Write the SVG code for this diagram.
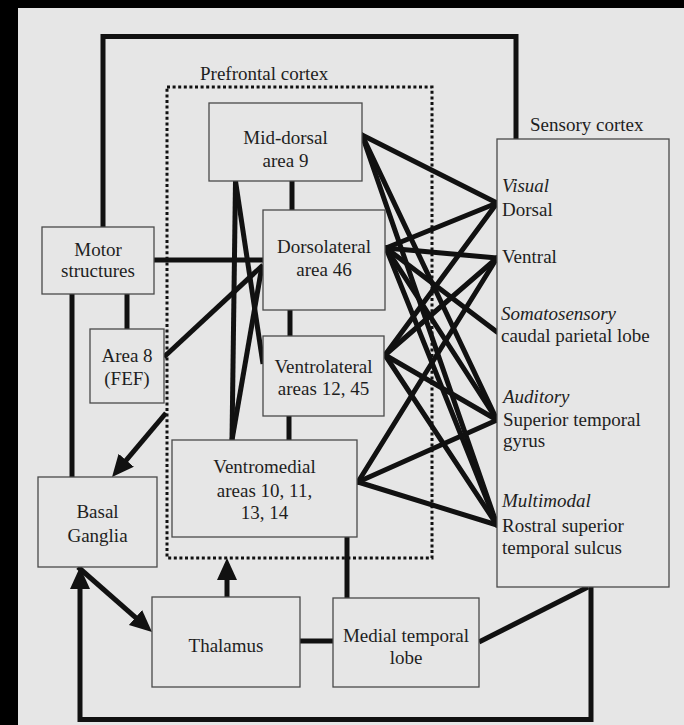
<svg xmlns="http://www.w3.org/2000/svg" width="684" height="725" viewBox="0 0 684 725" font-family="'Liberation Serif', 'Times New Roman', serif">
<defs>
<style>
.box{fill:#e6e6e6;stroke:#4a4a4a;stroke-width:1.3}
.t{font-family:'Liberation Serif','Times New Roman',serif;font-size:19px;fill:#1e1e1e}
.c{text-anchor:middle}
.i{font-style:italic}
.ln{stroke:#111;stroke-width:5;fill:none}
.fan{stroke:#111;stroke-width:5;fill:none;stroke-linecap:round}
.dot{fill:none;stroke:#111;stroke-width:3;stroke-dasharray:3 2.6}
</style>
<marker id="ah" markerUnits="userSpaceOnUse" markerWidth="24" markerHeight="22" refX="12" refY="10" orient="auto">
<path d="M0,0 L22,10 L0,20 z" fill="#111"/>
</marker>
</defs>
<rect x="0" y="0" width="684" height="725" fill="#e6e6e6"/>
<rect x="0" y="0" width="684" height="8" fill="#000"/>
<rect x="0" y="0" width="18" height="725" fill="#000"/>

<g id="prefrontal">
<rect class="dot" x="167" y="87" width="265" height="471"/>
<text class="t" x="200" y="80" font-family="Liberation Serif, serif">Prefrontal cortex</text>
</g>

<g id="connectors">
<path class="ln" d="M103,227 V36.5 H516 V139" stroke-linejoin="miter"/>
<path class="ln" d="M591,587 V719.5 H80 V577" marker-end="url(#ah)"/>
<line class="ln" x1="154" y1="260" x2="263" y2="260"/>
<line class="ln" x1="72" y1="294" x2="72" y2="477"/>
<line class="ln" x1="127" y1="294" x2="127" y2="329"/>
<line class="ln" x1="164" y1="357" x2="263" y2="265"/>
<line class="ln" x1="166" y1="413" x2="118.5" y2="469.4" marker-end="url(#ah)"/>
<line class="ln" x1="78" y1="567" x2="144.5" y2="625.4" marker-end="url(#ah)"/>
<line class="ln" x1="227" y1="597" x2="227" y2="568" marker-end="url(#ah)"/>
<line class="ln" x1="292" y1="181" x2="292" y2="210"/>
<line class="ln" x1="290" y1="310" x2="290" y2="336"/>
<line class="ln" x1="289" y1="416" x2="289" y2="440"/>
<line class="ln" x1="235.5" y1="181" x2="232" y2="440"/>
<line class="ln" x1="235.5" y1="181" x2="263" y2="364"/>
<line class="ln" x1="262" y1="266" x2="232" y2="440"/>
<line class="ln" x1="300" y1="641" x2="333" y2="641"/>
<line class="ln" x1="347" y1="537" x2="347" y2="598"/>
<line class="ln" x1="479" y1="642" x2="588" y2="587"/>
<line class="fan" x1="362" y1="135" x2="497" y2="203"/>
<line class="fan" x1="362" y1="135" x2="497" y2="420"/>
<line class="fan" x1="362" y1="135" x2="497" y2="525"/>
<line class="fan" x1="386" y1="248" x2="497" y2="203"/>
<line class="fan" x1="386" y1="248" x2="497" y2="258"/>
<line class="fan" x1="386" y1="248" x2="497" y2="332"/>
<line class="fan" x1="386" y1="248" x2="497" y2="420"/>
<line class="fan" x1="386" y1="248" x2="497" y2="525"/>
<line class="fan" x1="385" y1="355" x2="497" y2="203"/>
<line class="fan" x1="385" y1="355" x2="497" y2="258"/>
<line class="fan" x1="385" y1="355" x2="497" y2="420"/>
<line class="fan" x1="385" y1="355" x2="497" y2="525"/>
<line class="fan" x1="358" y1="482" x2="497" y2="258"/>
<line class="fan" x1="358" y1="482" x2="497" y2="420"/>
<line class="fan" x1="358" y1="482" x2="497" y2="525"/>
</g>

<g id="middorsal">
<rect class="box" x="209" y="103" width="153" height="78"/>
<text class="t c" x="285.5" y="144">Mid-dorsal</text>
<text class="t c" x="285.5" y="167">area 9</text>
</g>
<g id="dorsolateral">
<rect class="box" x="263" y="210" width="122" height="100"/>
<text class="t c" x="324" y="253">Dorsolateral</text>
<text class="t c" x="324" y="276">area 46</text>
</g>
<g id="ventrolateral">
<rect class="box" x="263" y="336" width="121" height="80"/>
<text class="t c" x="323.5" y="373">Ventrolateral</text>
<text class="t c" x="323.5" y="395">areas 12, 45</text>
</g>
<g id="ventromedial">
<rect class="box" x="172" y="440" width="185" height="97"/>
<text class="t c" x="264.5" y="473">Ventromedial</text>
<text class="t c" x="264.5" y="497">areas 10, 11,</text>
<text class="t c" x="264.5" y="519">13, 14</text>
</g>
<g id="motor">
<rect class="box" x="42" y="227" width="112" height="67"/>
<text class="t c" x="98" y="256">Motor</text>
<text class="t c" x="98" y="277">structures</text>
</g>
<g id="area8">
<rect class="box" x="90" y="329" width="74" height="74"/>
<text class="t c" x="127" y="362">Area 8</text>
<text class="t c" x="127" y="385">(FEF)</text>
</g>
<g id="basal">
<rect class="box" x="38" y="477" width="119" height="90"/>
<text class="t c" x="97.5" y="518">Basal</text>
<text class="t c" x="97.5" y="542">Ganglia</text>
</g>
<g id="thalamus">
<rect class="box" x="152" y="597" width="148" height="90"/>
<text class="t c" x="226" y="652">Thalamus</text>
</g>
<g id="medialtemporal">
<rect class="box" x="333" y="598" width="146" height="89"/>
<text class="t c" x="406" y="642">Medial temporal</text>
<text class="t c" x="406" y="664">lobe</text>
</g>
<g id="sensory">
<text class="t" x="530" y="131">Sensory cortex</text>
<rect class="box" x="497" y="139" width="172" height="448"/>
<text class="t i" x="502" y="192">Visual</text>
<text class="t" x="502" y="216">Dorsal</text>
<text class="t" x="502" y="263">Ventral</text>
<text class="t i" x="501" y="320">Somatosensory</text>
<text class="t" x="501" y="342">caudal parietal lobe</text>
<text class="t i" x="503" y="403">Auditory</text>
<text class="t" x="503" y="426">Superior temporal</text>
<text class="t" x="503" y="447">gyrus</text>
<text class="t i" x="502" y="507">Multimodal</text>
<text class="t" x="502" y="532">Rostral superior</text>
<text class="t" x="502" y="554">temporal sulcus</text>
</g>
</svg>
